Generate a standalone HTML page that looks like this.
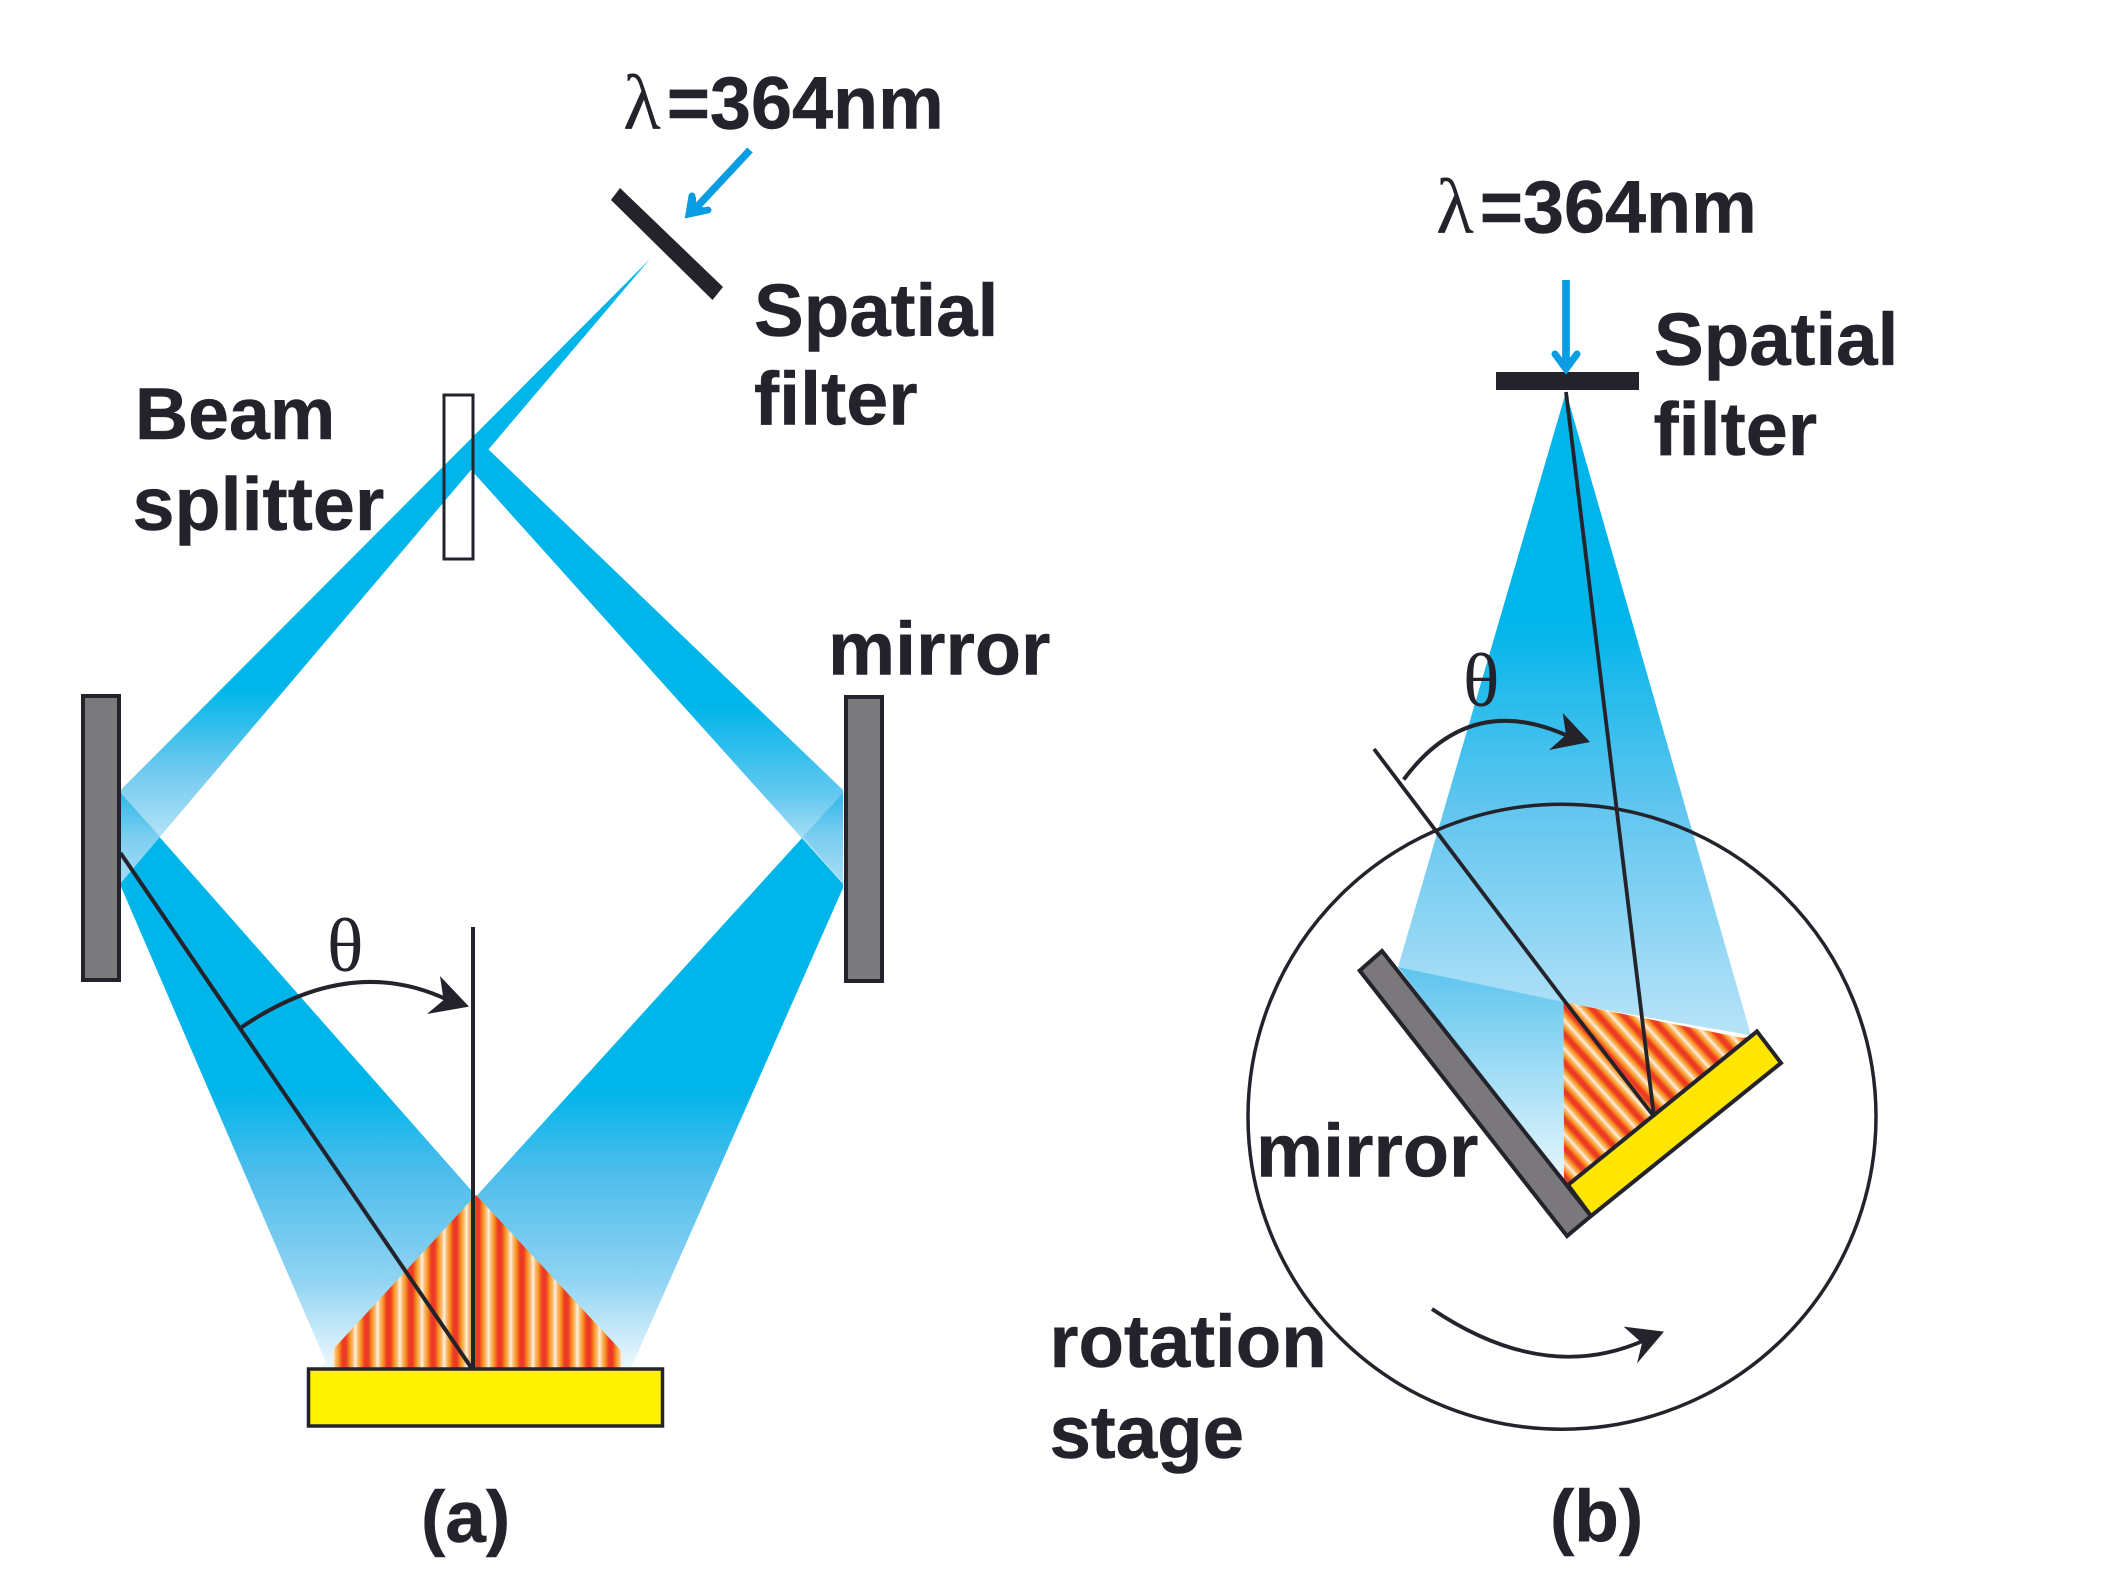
<!DOCTYPE html>
<html><head><meta charset="utf-8"><style>
html,body{margin:0;padding:0;background:#fff}
svg{display:block}
text{font-family:"Liberation Sans",sans-serif;font-weight:bold;font-size:74.5px;fill:#24232c;stroke:#24232c;stroke-width:.5px}
.s{font-family:"Liberation Serif",serif;font-weight:normal;stroke:none}
</style></head><body>
<svg width="2123" height="1594" viewBox="0 0 2123 1594" xmlns="http://www.w3.org/2000/svg">
<defs>
<linearGradient id="inc" gradientUnits="userSpaceOnUse" x1="0" y1="690" x2="0" y2="884">
<stop offset="0" stop-color="#00B5EA"/><stop offset=".41" stop-color="#6EC9EE"/><stop offset=".75" stop-color="#B2E2F7"/><stop offset="1" stop-color="#cdeefa"/></linearGradient>
<linearGradient id="inr" gradientUnits="userSpaceOnUse" x1="0" y1="705" x2="0" y2="884">
<stop offset="0" stop-color="#00B5EA"/><stop offset=".5" stop-color="#62C8EF"/><stop offset=".75" stop-color="#A8DEF6"/><stop offset="1" stop-color="#cdeefa"/></linearGradient>
<linearGradient id="ov" gradientUnits="userSpaceOnUse" x1="0" y1="793" x2="0" y2="883">
<stop offset="0" stop-color="#2eb8ea"/><stop offset=".48" stop-color="#7bcdf0"/><stop offset="1" stop-color="#a5ddf6"/></linearGradient>
<linearGradient id="ref" gradientUnits="userSpaceOnUse" x1="0" y1="1090" x2="0" y2="1368">
<stop offset="0" stop-color="#00B5EA"/><stop offset=".3" stop-color="#4DBDEC"/><stop offset=".68" stop-color="#8FD3F3"/><stop offset="1" stop-color="#ecf8fd"/></linearGradient>
<linearGradient id="bm" gradientUnits="userSpaceOnUse" x1="0" y1="620" x2="0" y2="1035">
<stop offset="0" stop-color="#00B5EA"/><stop offset=".45" stop-color="#60C5EF"/><stop offset="1" stop-color="#B8E3F8"/></linearGradient>
<linearGradient id="bm2" gradientUnits="userSpaceOnUse" x1="0" y1="967" x2="0" y2="1185">
<stop offset="0" stop-color="#5CC4EE"/><stop offset="1" stop-color="#eaf7fd"/></linearGradient>
<linearGradient id="fr" x1="0" y1="0" x2="1" y2="0">
<stop offset="0" stop-color="#fff3e0"/><stop offset=".1" stop-color="#fbbf7f"/><stop offset=".25" stop-color="#f7941d"/><stop offset=".42" stop-color="#ed3a25"/><stop offset=".58" stop-color="#ed3a25"/><stop offset=".75" stop-color="#f7941d"/><stop offset=".9" stop-color="#fbbf7f"/><stop offset="1" stop-color="#fff3e0"/></linearGradient>
<pattern id="pa" patternUnits="userSpaceOnUse" x="466.4" y="0" width="22.2" height="20"><rect width="22.2" height="20" fill="url(#fr)"/></pattern>
<pattern id="pb" patternUnits="userSpaceOnUse" width="19" height="20" patternTransform="translate(1564,1020) rotate(-42)"><rect width="19" height="20" fill="url(#fr)"/></pattern>
</defs>

<!-- panel a beams -->
<polygon points="120.7,793 628,1368 328.5,1368 120.7,886" fill="url(#ref)"/>
<polygon points="843,793 320,1368 631,1368 843,888" fill="url(#ref)"/>
<polygon points="650,259 120.7,790 120.7,883" fill="url(#inc)"/>
<polygon points="488,449 843,790 843,884 473,472 473,438" fill="url(#inr)"/>
<polygon points="120.7,793 160,836.7 120.7,883" fill="url(#ov)"/>
<polygon points="843,793 803,836.7 843,883" fill="url(#ov)"/>
<polygon points="476,1195 621.5,1351 621.5,1368 332.5,1368 332.5,1350" fill="url(#pa)"/>
<rect x="444" y="395" width="29" height="164" fill="none" stroke="#24232c" stroke-width="3"/>
<rect x="83" y="696" width="36" height="284" fill="#7a7a7c" stroke="#24232c" stroke-width="4"/>
<rect x="846" y="697" width="36" height="284" fill="#7a7a7c" stroke="#24232c" stroke-width="4"/>
<rect x="308.5" y="1369" width="354" height="57" fill="#FFF200" stroke="#24232c" stroke-width="3.5"/>
<line x1="473" y1="927" x2="473" y2="1368" stroke="#24232c" stroke-width="4"/>
<line x1="120.5" y1="853" x2="471.5" y2="1368" stroke="#24232c" stroke-width="4"/>
<path d="M239,1029 Q350,952 450,1001" fill="none" stroke="#24232c" stroke-width="4"/>
<polygon points="469,1006.6 440,976 443.6,1000 427,1014" fill="#24232c"/>
<polygon points="620,188 611,200 712.5,300 723,287" fill="#24232c"/>
<line x1="750" y1="150" x2="695" y2="209" stroke="#0A9DE3" stroke-width="7.5"/>
<polygon points="686,218 689,197 696,197 696,206 708,208 710,212" fill="#0A9DE3"/>
<path d="M692,196 L689,214 L708,210" fill="none" stroke="#0A9DE3" stroke-width="7" stroke-linecap="round"/>

<text x="623" y="128.6"><tspan class="s" style="font-size:78px">λ</tspan><tspan dx="6" style="font-size:73.8px">=364nm</tspan></text>
<text x="754" y="336">Spatial</text>
<text x="754" y="424.5" style="font-size:75.5px">filter</text>
<text x="135" y="439" style="font-size:73.5px">Beam</text>
<text x="132.5" y="530" style="font-size:75.5px">splitter</text>
<text x="828" y="674.5" style="font-size:75.5px">mirror</text>
<text class="s" x="327" y="971" style="font-size:76px">θ</text>
<text x="421" y="1542" style="font-size:73px">(a)</text>

<!-- panel b -->
<polygon points="1566,392 1398,967 1563,1002.5 1751,1035.4" fill="url(#bm)"/>
<polygon points="1398,967 1563.5,1002 1564,1184" fill="url(#bm2)"/>
<polygon points="1563.5,1002 1743,1038 1752,1036 1566,1186 1564,1182" fill="url(#pb)"/>
<ellipse cx="1562" cy="1116.7" rx="314" ry="312.5" fill="none" stroke="#24232c" stroke-width="3.5"/>
<polygon points="1382,951 1359.7,970.6 1567,1236 1591,1216" fill="#7a787b" stroke="#24232c" stroke-width="4"/>
<polygon points="1757,1031.4 1781,1063 1591,1216 1568,1185" fill="#FFE600" stroke="#24232c" stroke-width="4"/>
<polyline points="1374,749 1563,999 1654,1116.5" fill="none" stroke="#24232c" stroke-width="3.8"/>
<line x1="1566" y1="392" x2="1654" y2="1116.5" stroke="#24232c" stroke-width="3.8"/>
<path d="M1403.7,779.6 Q1470,690 1570,737" fill="none" stroke="#24232c" stroke-width="4"/>
<polygon points="1590,742 1562.7,713 1566,735 1549,750" fill="#24232c"/>
<rect x="1496" y="372" width="143" height="18" fill="#24232c"/>
<line x1="1566" y1="280" x2="1566" y2="366" stroke="#0A9DE3" stroke-width="7.7"/>
<path d="M1555,354 L1566,369 L1577,354" fill="none" stroke="#0A9DE3" stroke-width="7" stroke-linecap="round"/>
<path d="M1432,1309 Q1545,1385 1645,1340" fill="none" stroke="#24232c" stroke-width="3.8"/>
<polygon points="1664,1331.6 1623.6,1326.6 1642,1343 1637,1363.5" fill="#24232c"/>

<text x="1436" y="232.6"><tspan class="s" style="font-size:78px">λ</tspan><tspan dx="6" style="font-size:73.8px">=364nm</tspan></text>
<text x="1654" y="365">Spatial</text>
<text x="1653.5" y="455" style="font-size:75.5px">filter</text>
<text class="s" x="1463" y="706" style="font-size:76px">θ</text>
<text x="1256" y="1176.7" style="font-size:75.5px">mirror</text>
<text x="1049.5" y="1367">rotation</text>
<text x="1049.5" y="1458">stage</text>
<text x="1550" y="1541" style="font-size:73px">(b)</text>
</svg>
</body></html>
